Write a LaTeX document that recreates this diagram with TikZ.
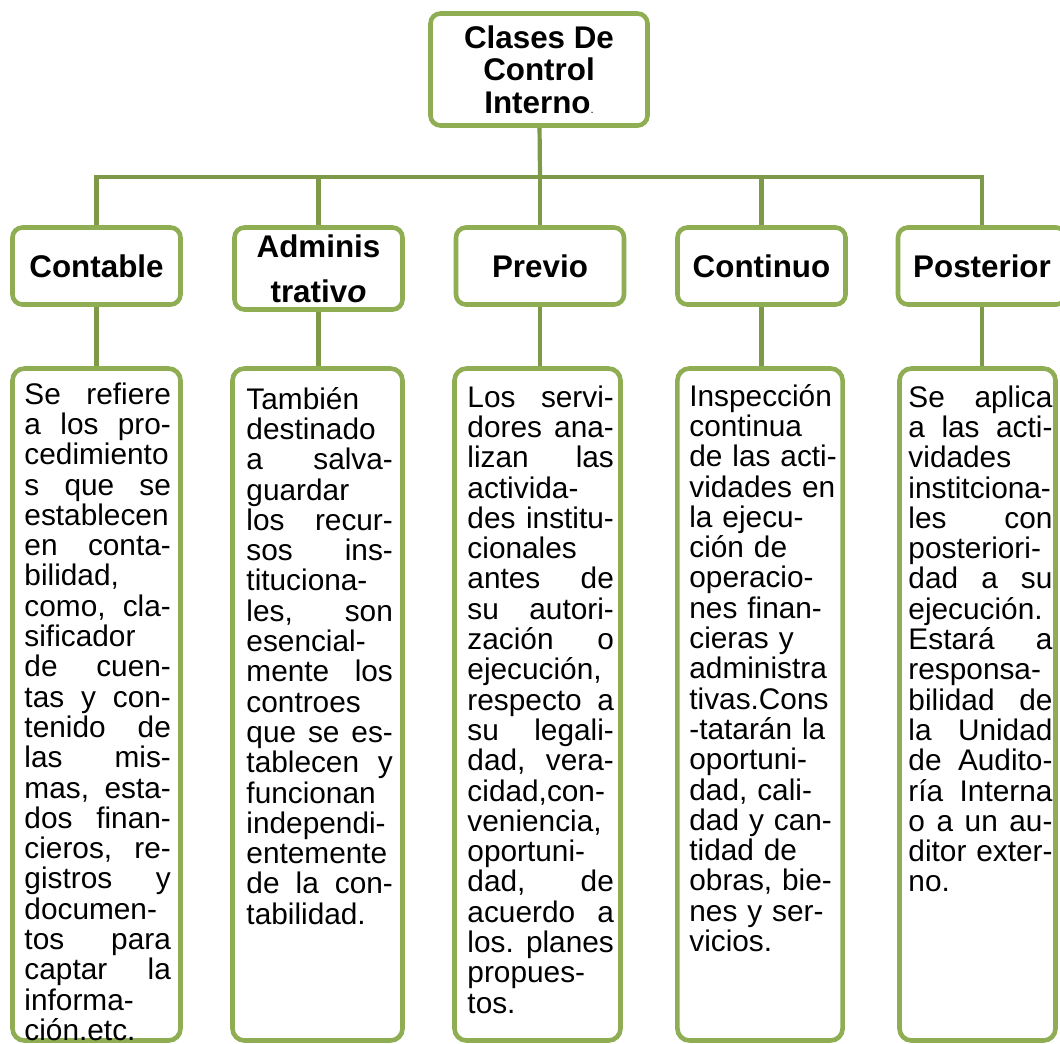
\documentclass[tikz,border=0pt]{standalone}
\usepackage{fontspec}
\setmainfont{Liberation Sans}
\usepackage{xcolor}
\usetikzlibrary{positioning}

\definecolor{boxgreen}{HTML}{8FAD52}
\definecolor{linegreen}{HTML}{7E9A48}

% no hyphenation, one space after a full stop
\hyphenpenalty=10000
\exhyphenpenalty=10000
\frenchspacing

\begin{document}
\begin{tikzpicture}[x=0.25mm, y=-0.25mm,
    topbox/.style={draw=boxgreen, line width=1.15mm, rounded corners=2.5mm, fill=white,
        align=center, inner sep=0pt, minimum width=54.25mm, minimum height=28mm,
        font=\fontsize{22.3}{23.1}\selectfont\bfseries},
    kindbox/.style={draw=boxgreen, line width=1.15mm, rounded corners=2.5mm, fill=white,
        align=center, inner sep=0pt, minimum width=42mm, minimum height=19.25mm,
        font=\fontsize{22.3}{26}\selectfont\bfseries},
    descbox/.style={draw=boxgreen, line width=1.15mm, rounded corners=3mm,
        inner sep=0pt, minimum height=168mm},
    desctext/.style={text width=36.6mm, inner sep=0pt, anchor=base west,
        font=\fontsize{21.2}{21.55}\selectfont},
    link/.style={draw=linegreen, line width=1.05mm}]
    \path[use as bounding box, fill=white] (0,0) rectangle (1060,1044);

    % Top box
    \node[topbox] (top) at (539,69.5)
        {Clases De\\Control\\Interno{\normalfont\fontsize{8}{8}\selectfont.}};

    % Kinds of control
    \node[kindbox] (contable)  at (96.5,266)  {Contable};
    \node[kindbox, minimum height=20.5mm, font=\fontsize{22.3}{32}\selectfont\bfseries]
        (admin) at (318.5,268.5) {Adminis\\trativ\textit{o}};
    \node[kindbox] (previo)    at (540,266)   {Previo};
    \node[kindbox] (continuo)  at (761.5,266) {Continuo};
    \node[kindbox] (posterior) at (982,266)   {Posterior};

    % Description boxes
    \node[descbox, minimum width=42mm]   (cbox) at (96.5,704.5)  {};
    \node[descbox, minimum width=42.5mm] (abox) at (317.5,704.5) {};
    \node[descbox, minimum width=41.5mm] (pbox) at (537.5,704.5) {};
    \node[descbox, minimum width=41.3mm] (tbox) at (760,704.5)   {};
    \node[descbox, minimum width=39mm]   (sbox) at (977.5,704.5) {};

    % Connectors
    \coordinate (bus) at (540,177);
    \draw[link] (top) -- (bus);
    \foreach \n in {contable,admin,previo,continuo,posterior}
        \draw[link] (bus) -| (\n);
    \foreach \t/\b in {contable/cbox, admin/abox, previo/pbox, continuo/tbox, posterior/sbox}
        \draw[link] (\t.south) -- (\t.south |- \b.north);

    % Texts (\hfill spreads the justified lines)
    \node[desctext] (ctext) at ([shift={(14,38)}]cbox.north west) {%
        Se\hfill refiere\\ a\hfill los\hfill pro-\\ cedimiento\\ s\hfill que\hfill se\\
        establecen\\ en\hfill conta-\\ bilidad,\\ como,\hfill cla-\\ sificador\\
        de\hfill cuen-\\ tas\hfill y\hfill con-\\ tenido\hfill de\\ las\hfill mis-\\
        mas,\hfill esta-\\ dos\hfill finan-\\ cieros,\hfill re-\\ gistros\hfill y\\
        documen-\\ tos\hfill para\\ captar\hfill la\\ informa-\\ ción.etc.};
    \node[desctext] (atext) at ([shift={(16,43)}]abox.north west) {%
        También\\ destinado\\ a\hfill salva-\\ guardar\\ los\hfill recur-\\
        sos\hfill ins-\\ tituciona-\\ les,\hfill son\\ esencial-\\ mente\hfill los\\
        controes\\ que\hfill se\hfill es-\\ tablecen\hfill y\\ funcionan\\ independi-\\
        entemente\\ de\hfill la\hfill con-\\ tabilidad.};
    \node[desctext] (ptext) at ([shift={(15,41)}]pbox.north west) {%
        Los\hfill servi-\\ dores\hfill ana-\\ lizan\hfill las\\ activida-\\
        des\hfill institu-\\ cionales\\ antes\hfill de\\ su\hfill autori-\\
        zación\hfill o\\ ejecución,\\ respecto\hfill a\\ su\hfill legali-\\
        dad,\hfill vera-\\ cidad,con-\\ veniencia,\\ oportuni-\\ dad,\hfill de\\
        acuerdo\hfill a\\ los.\hfill planes\\ propues-\\ tos.};
    \node[desctext, text width=38mm] (ttext) at ([shift={(14,40)}]tbox.north west) {%
        Inspección\\ continua\\ de las acti-\\ vidades en\\ la ejecu-\\ ción de\\
        operacio-\\ nes finan-\\ cieras y\\ administra\\ tivas.Cons\\ -tatarán la\\
        oportuni-\\ dad, cali-\\ dad y can-\\ tidad de\\ obras, bie-\\ nes y ser-\\
        vicios.};
    \node[desctext, text width=36mm] (stext) at ([shift={(11,41)}]sbox.north west) {%
        Se\hfill aplica\\ a\hfill las\hfill acti-\\ vidades\\ institciona-\\
        les\hfill con\\ posteriori-\\ dad\hfill a\hfill su\\ ejecución.\\ Estará\hfill a\\
        responsa-\\ bilidad\hfill de\\ la\hfill Unidad\\ de\hfill Audito-\\
        ría\hfill Interna\\ o\hfill a\hfill un\hfill au-\\ ditor\hfill exter-\\ no.};
\end{tikzpicture}
\end{document}
